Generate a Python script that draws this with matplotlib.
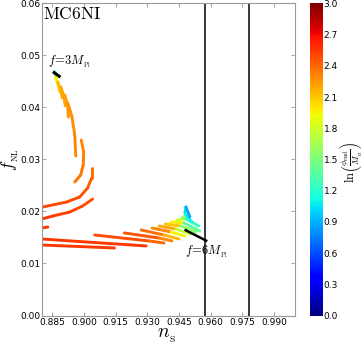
import matplotlib
matplotlib.use("Agg")

import numpy as np
import matplotlib.pyplot as plt
from matplotlib.collections import LineCollection
from matplotlib.colors import Normalize
from matplotlib.cm import ScalarMappable

plt.rcParams['mathtext.fontset'] = 'cm'

# Curves: (n_S, f_NL, ln(phi_end/M_Pl)) per vertex
top_arcs = [
    ([0.88625, 0.88672, 0.88696], [0.04683, 0.04606, 0.04529], [0.8, 1.6, 1.9]),
    ([0.88649, 0.88766, 0.88860], [0.04587, 0.04452, 0.04298], [1.9, 2.0, 2.15]),
    ([0.88766, 0.88907, 0.88978], [0.04490, 0.04337, 0.04183], [2.1, 2.2, 2.2]),
    ([0.88907, 0.89048, 0.89119], [0.04394, 0.04221, 0.04029], [2.2, 2.2, 2.2]),
    ([0.89095, 0.89236, 0.89260], [0.04240, 0.04029, 0.03817], [2.2, 2.25, 2.25]),
    ([0.89236, 0.89425, 0.89566, 0.89613], [0.04087, 0.03837, 0.03471, 0.03067],
     [2.25, 2.25, 2.3, 2.3]),
]

mid_arcs = [
    ([0.89871, 0.89989, 0.89965, 0.89848, 0.89566],
     [0.03375, 0.03144, 0.02894, 0.02702, 0.02567], [2.3, 2.3, 2.35, 2.35, 2.35]),
    ([0.90365, 0.90365, 0.90177, 0.89801, 0.89189, 0.88061],
     [0.02837, 0.02644, 0.02452, 0.02279, 0.02183, 0.02087],
     [2.35, 2.4, 2.45, 2.45, 2.5, 2.5]),
    ([0.90412, 0.89942, 0.89331, 0.88531, 0.88000],
     [0.02240, 0.02106, 0.01990, 0.01913, 0.01856], [2.45, 2.5, 2.5, 2.55, 2.55]),
    ([0.88014, 0.88296], [0.01683, 0.01702], [2.55, 2.55]),
]

long_lines = [
    ([0.88000, 0.92951], [0.01471, 0.01337], [2.55, 2.55]),
    ([0.88000, 0.91446], [0.01356, 0.01298], [2.55, 2.55]),
]

fan_lines = [
    ([0.90506, 0.93092, 0.93797], [0.01548, 0.01433, 0.01394], [2.5, 2.45, 2.35]),
    ([0.91916, 0.93562, 0.94173], [0.01587, 0.01490, 0.01433], [2.5, 2.4, 2.2]),
    ([0.92716, 0.93797, 0.94502], [0.01644, 0.01548, 0.01471], [2.45, 2.3, 2.0]),
    ([0.93233, 0.94126, 0.94784], [0.01683, 0.01606, 0.01529], [2.4, 2.2, 1.7]),
    ([0.93562, 0.94361, 0.95066], [0.01721, 0.01663, 0.01567], [2.35, 2.05, 1.4]),
    ([0.93844, 0.94596, 0.95302], [0.01760, 0.01721, 0.01606], [2.3, 1.9, 1.2]),
    ([0.94126, 0.94737, 0.95489], [0.01798, 0.01779, 0.01625], [2.2, 1.75, 1.0]),
    ([0.94408, 0.94831, 0.95442], [0.01837, 0.01856, 0.01721], [2.05, 1.5, 1.0]),
    ([0.94643, 0.94831, 0.95113], [0.01875, 0.01933, 0.01798], [1.85, 1.3, 0.9]),
    ([0.94784, 0.94831, 0.95019], [0.01971, 0.02087, 0.01894], [1.2, 0.9, 0.85]),
]

# observational n_S bounds
ns_bounds = [0.9576, 0.9783]

xticks = [0.885, 0.900, 0.915, 0.930, 0.945, 0.960, 0.975, 0.990]
yticks = [0.00, 0.01, 0.02, 0.03, 0.04, 0.05, 0.06]
cticks = [0.0, 0.3, 0.6, 0.9, 1.2, 1.5, 1.8, 2.1, 2.4, 2.7, 3.0]

cmap = plt.get_cmap('jet')
norm = Normalize(vmin=0.0, vmax=3.0)

fig = plt.figure(figsize=(3.64, 3.45), dpi=100)
ax = fig.add_axes([0.1146, 0.0855, 0.6958, 0.9045])
cax = fig.add_axes([0.8516, 0.0855, 0.0357, 0.9045])

segs = []
vals = []
for group in [top_arcs, mid_arcs, long_lines, fan_lines]:
    for xs, ys, cs in group:
        for i in range(len(xs) - 1):
            segs.append([(xs[i], ys[i]), (xs[i + 1], ys[i + 1])])
            vals.append(0.5 * (cs[i] + cs[i + 1]))

lc = LineCollection(segs, cmap=cmap, norm=norm, linewidths=2.1, capstyle='round')
lc.set_array(np.array(vals))
ax.add_collection(lc)

for b in ns_bounds:
    ax.axvline(b, color='k', lw=1.1)

# annotation lines
ax.plot([0.8859, 0.8883], [0.0467, 0.0460], color='k', lw=2.2)
ax.plot([0.9482, 0.9579], [0.0164, 0.0144], color='k', lw=1.8)
ax.text(0.8830, 0.0488, r'$f\!=\!3M_{_{\rm Pl}}$', fontsize=9, va='center', ha='left')
ax.text(0.9478, 0.0122, r'$f\!=\!6M_{_{\rm Pl}}$', fontsize=9, va='center', ha='left')
ax.text(0.0055, 0.995, r'$\mathrm{MC6NI}$', transform=ax.transAxes, fontsize=12.5,
        va='top', ha='left')

ax.set_xlim(0.88, 1.0)
ax.set_ylim(0.0, 0.06)
ax.set_xticks(xticks)
ax.set_xticklabels(['%.3f' % t for t in xticks])
ax.set_yticks(yticks)
ax.set_yticklabels(['%.2f' % t for t in yticks])
ax.tick_params(labelsize=6.5, direction='in', top=True, right=True, length=3,
               color='#aaaaaa', pad=2)
ax.tick_params(axis='y', pad=1)
for s in ax.spines.values():
    s.set_color('#999999')

# axis labels placed in figure coordinates so they stay inside the canvas
fig.text(0.458, 0.0, r'$n_{_{\rm S}}$', fontsize=14, ha='center', va='bottom')
fig.text(0.0, 0.536, r'$f_{_{\rm NL}}$', fontsize=12.5, ha='left', va='center',
         rotation=90)

sm = ScalarMappable(norm=norm, cmap=cmap)
cb = fig.colorbar(sm, cax=cax, ticks=cticks)
cb.ax.set_yticklabels(['%.1f' % t for t in cticks])
cb.ax.tick_params(labelsize=6.5, length=0, pad=0.5)
cb.outline.set_visible(False)
fig.text(0.999, 0.53, r'$\ln\!\left(\frac{\phi_{\rm end}}{M_{_{\rm Pl}}}\right)$',
         fontsize=9, ha='right', va='center', rotation=90)

plt.savefig("out.png", dpi=100)
print("plot created")
